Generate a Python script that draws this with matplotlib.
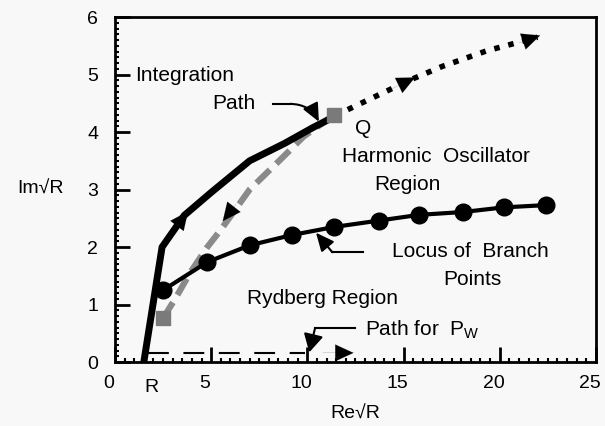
import matplotlib
matplotlib.use("Agg")
import matplotlib.pyplot as plt
import matplotlib.transforms as mtransforms
from matplotlib.ticker import MultipleLocator

plt.rcParams['font.family'] = ['Liberation Sans', 'DejaVu Sans']

# Integration path (solid)
int_x = [1.5, 2.45, 3.6, 5.0, 7.0, 8.8, 10.3, 11.3]
int_y = [0.0, 2.0, 2.55, 2.95, 3.5, 3.8, 4.08, 4.25]

# Return path (gray dashed)
ret_x = [2.5, 3.2, 3.9, 4.8, 5.5, 7.0, 8.75, 9.8, 11.4]
ret_y = [0.76, 1.14, 1.55, 2.0, 2.3, 3.0, 3.57, 3.92, 4.3]

# Dotted continuation from Q
dot_x = [11.4, 12.1, 15.3, 17.0, 19.3, 21.96]
dot_y = [4.3, 4.39, 4.9, 5.14, 5.41, 5.65]

# Locus of branch points
loc_x = [2.5, 4.8, 7.0, 9.2, 11.4, 13.7, 15.8, 18.1, 20.2, 22.4]
loc_y = [1.25, 1.74, 2.03, 2.21, 2.35, 2.46, 2.56, 2.61, 2.69, 2.73]

# Path for P_W (dashed)
pw_x = [1.7, 9.9]
pw_y = [0.16, 0.16]

x_ticks = [0, 5, 10, 15, 20, 25]
y_ticks = [0, 1, 2, 3, 4, 5, 6]

fig = plt.figure(figsize=(6.05, 4.26), dpi=100, facecolor='#f8f8f8')
ax = fig.add_axes([0.190, 0.150, 0.795, 0.810])
ax.set_facecolor('#f8f8f8')

ax.plot(int_x, int_y, color='black', lw=5, solid_joinstyle='miter', zorder=4)
ax.plot(ret_x, ret_y, color='#8a8a8a', lw=4.5, linestyle=(0, (3, 1.4)), zorder=3)
ax.plot(dot_x, dot_y, color='black', lw=4, linestyle=(0, (1, 1.6)),
        dash_capstyle='butt', zorder=3)
ax.plot(loc_x, loc_y, color='black', lw=3, marker='o', markersize=12, zorder=5)
ax.plot(pw_x, pw_y, color='black', lw=1.5, linestyle=(0, (10, 7)), zorder=3)

# gray squares at ends of return path
ax.plot([ret_x[0], ret_x[-1]], [ret_y[0], ret_y[-1]], linestyle='none',
        marker='s', markersize=10, color='#7a7a7a', zorder=6)

# direction arrowheads along the paths
arrows = [
    ((3.0, 2.27), (3.8, 2.62)),     # integration path, up-right
    ((6.3, 2.75), (5.6, 2.45)),     # return path, down-left
    ((14.2, 4.72), (15.6, 4.95)),   # dotted path
    ((21.0, 5.55), (22.1, 5.68)),   # dotted path end
    ((10.8, 0.16), (12.4, 0.16)),   # P_W path
]
for start, end in arrows:
    ax.annotate('', xy=end, xytext=start,
                arrowprops=dict(arrowstyle='-|>,head_length=1.3,head_width=0.6',
                                color='black', lw=0.1, shrinkA=0, shrinkB=0),
                zorder=7)

# pointer annotations
ax.plot([8.2, 9.1], [4.49, 4.49], color='black', lw=1.5)
ax.annotate('', xy=(10.6, 4.18), xytext=(9.1, 4.49),
            arrowprops=dict(arrowstyle='-|>,head_length=1.1,head_width=0.5',
                            color='black', lw=1.5,
                            connectionstyle='arc3,rad=-0.3',
                            shrinkA=0, shrinkB=0))
ax.plot([12.87, 11.3], [1.91, 1.91], color='black', lw=1.5)
ax.annotate('', xy=(10.45, 2.25), xytext=(11.3, 1.91),
            arrowprops=dict(arrowstyle='-|>,head_length=1.1,head_width=0.5',
                            color='black', lw=1.5, shrinkA=0, shrinkB=0))
ax.plot([12.5, 10.4], [0.59, 0.59], color='black', lw=1.5)
ax.annotate('', xy=(10.1, 0.17), xytext=(10.4, 0.59),
            arrowprops=dict(arrowstyle='-|>,head_length=1.1,head_width=0.6',
                            color='black', lw=1.5, shrinkA=0, shrinkB=0))

fs = 15
ax.text(1.06, 4.99, 'Integration', fontsize=fs, ha='left', va='center')
ax.text(6.2, 4.49, 'Path', fontsize=fs, ha='center', va='center')
ax.text(12.9, 4.07, 'Q', fontsize=fs, ha='center', va='center')
ax.text(16.7, 3.57, 'Harmonic  Oscillator', fontsize=fs, ha='center', va='center')
ax.text(15.2, 3.08, 'Region', fontsize=fs, ha='center', va='center')
ax.text(18.5, 1.93, 'Locus of  Branch', fontsize=fs, ha='center', va='center')
ax.text(18.6, 1.44, 'Points', fontsize=fs, ha='center', va='center')
ax.text(10.8, 1.11, 'Rydberg Region', fontsize=fs, ha='center', va='center')
ax.text(12.98, 0.56, r'Path for  P$_{\mathregular{W}}$', fontsize=fs, ha='left', va='center')

ax.set_xlim(0, 25)
ax.set_ylim(0, 6)
ax.set_xticks(x_ticks)
ax.set_yticks(y_ticks)
ax.xaxis.set_minor_locator(MultipleLocator(0.5))
ax.yaxis.set_minor_locator(MultipleLocator(0.1))
ax.tick_params(axis='both', which='major', direction='in', length=11, width=2,
               labelsize=14, top=False, right=False)
ax.tick_params(axis='x', which='major', pad=9)
ax.tick_params(axis='y', which='major', pad=12)
ax.tick_params(axis='both', which='minor', direction='in', length=3, width=1.5,
               top=False, right=False)
for s in ax.spines.values():
    s.set_linewidth(2)

shift = mtransforms.ScaledTranslation(-6 / 100, 0, fig.dpi_scale_trans)
for lab in ax.get_xticklabels():
    lab.set_transform(lab.get_transform() + shift)

ax.text(1.88, -0.075, 'R', fontsize=14, ha='center', va='center',
        transform=ax.get_xaxis_transform())
ax.set_xlabel('Re\u221aR', fontsize=14, labelpad=10)
ax.set_ylabel('Im\u221aR', fontsize=14, rotation=0, labelpad=34, va='center')

fig.savefig('out.png', dpi=100, facecolor=fig.get_facecolor())
